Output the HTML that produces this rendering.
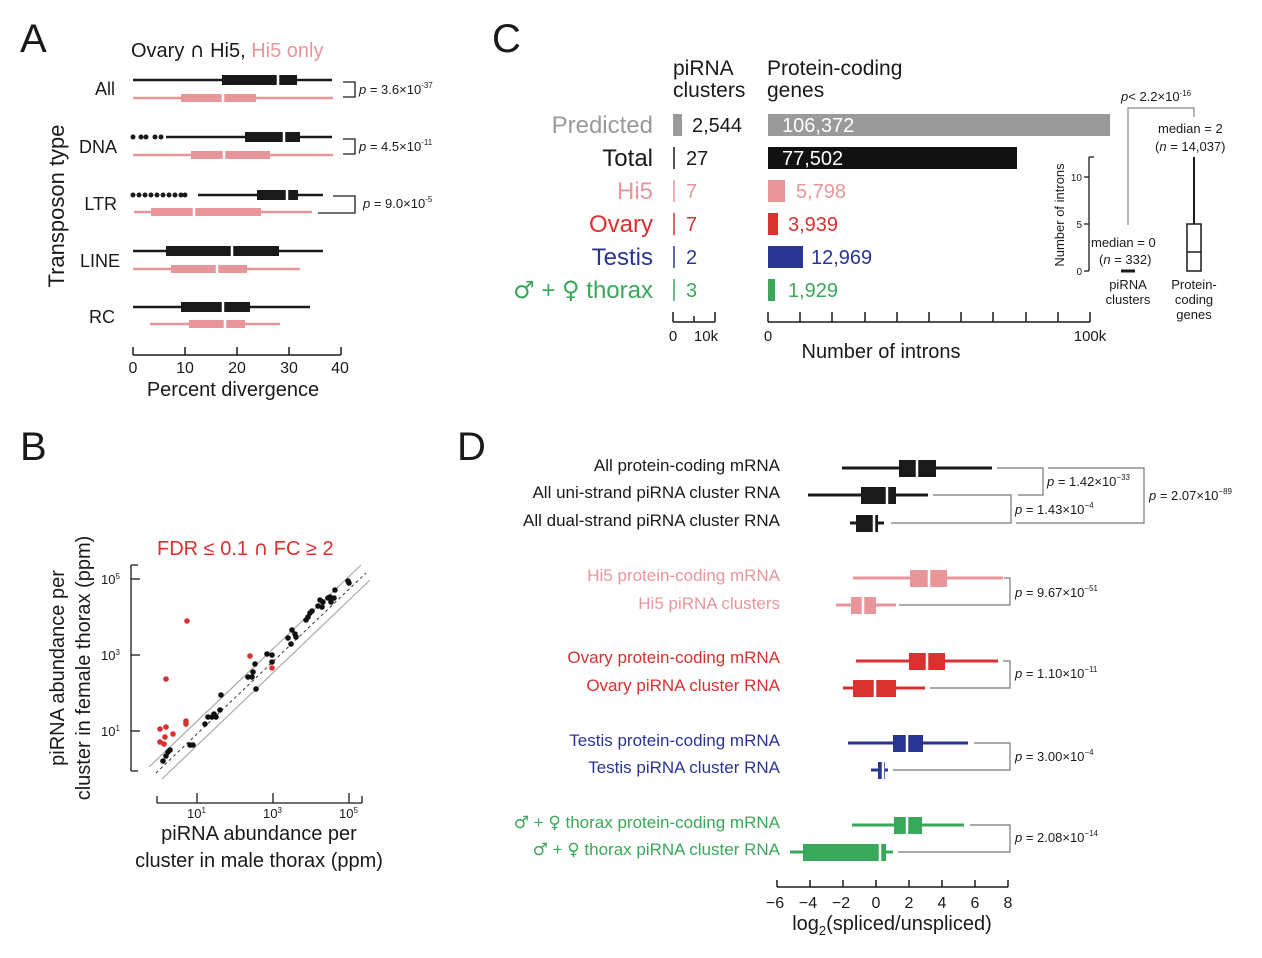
<!DOCTYPE html>
<html><head><meta charset="utf-8"><style>
body{margin:0;background:#fff}
svg{display:block;font-family:"Liberation Sans","DejaVu Sans",sans-serif}
.sym{font-family:"DejaVu Sans",sans-serif}
</style></head><body>
<svg width="1262" height="958" viewBox="0 0 1262 958" xmlns="http://www.w3.org/2000/svg">
<rect width="1262" height="958" fill="#fff"/>
<!-- Panel A -->
<text x="20" y="52" font-size="40" fill="#1a1a1a">A</text>
<text x="131" y="57" font-size="20" fill="#1a1a1a">Ovary <tspan class="sym">∩</tspan> Hi5, <tspan fill="#e8969a">Hi5 only</tspan></text>
<text transform="translate(64,206) rotate(-90)" text-anchor="middle" font-size="22" fill="#1a1a1a">Transposon type</text>
<g font-size="18" fill="#1a1a1a" text-anchor="end">
<text x="115" y="95">All</text><text x="117" y="153">DNA</text><text x="117" y="210">LTR</text><text x="120" y="267">LINE</text><text x="115" y="323">RC</text></g>
<g stroke-width="2.5">
<g stroke="#1a1a1a"><line x1="133" y1="80" x2="332" y2="80"/><line x1="166" y1="137" x2="332" y2="137"/><line x1="198" y1="195" x2="323" y2="195"/><line x1="133" y1="251" x2="323" y2="251"/><line x1="133" y1="307" x2="310" y2="307"/></g>
<g stroke="#e8969a"><line x1="133" y1="98" x2="333" y2="98"/><line x1="133" y1="155" x2="333" y2="155"/><line x1="134" y1="212" x2="312" y2="212"/><line x1="133" y1="269" x2="300" y2="269"/><line x1="150" y1="324" x2="280" y2="324"/></g>
</g>
<g fill="#1a1a1a">
<rect x="222" y="75" width="75" height="10"/><rect x="245" y="132" width="55" height="10"/><rect x="257" y="190" width="41" height="10"/><rect x="166" y="246" width="113" height="10"/><rect x="181" y="302" width="69" height="10"/>
</g>
<g fill="#e8969a">
<rect x="181" y="94" width="75" height="8"/><rect x="191" y="151" width="79" height="8"/><rect x="151" y="208" width="110" height="8"/><rect x="171" y="265" width="76" height="8"/><rect x="189" y="320" width="56" height="8"/>
</g>
<g stroke="#fff" stroke-width="2.5">
<line x1="278" y1="73" x2="278" y2="87"/><line x1="284" y1="130" x2="284" y2="144"/><line x1="287" y1="188" x2="287" y2="202"/><line x1="232" y1="244" x2="232" y2="258"/><line x1="223" y1="300" x2="223" y2="314"/>
<line x1="223" y1="92" x2="223" y2="104"/><line x1="224" y1="149" x2="224" y2="161"/><line x1="194" y1="206" x2="194" y2="218"/><line x1="217" y1="263" x2="217" y2="275"/><line x1="225" y1="318" x2="225" y2="330"/>
</g>
<g fill="#1a1a1a">
<circle cx="133" cy="137" r="2.5"/><circle cx="141" cy="137" r="2.5"/><circle cx="146" cy="137" r="2.5"/><circle cx="155" cy="137" r="2.5"/><circle cx="161" cy="137" r="2.5"/>
<circle cx="133" cy="195" r="2.5"/><circle cx="139" cy="195" r="2.5"/><circle cx="145" cy="195" r="2.5"/><circle cx="151" cy="195" r="2.5"/><circle cx="157" cy="195" r="2.5"/><circle cx="163" cy="195" r="2.5"/><circle cx="169" cy="195" r="2.5"/><circle cx="175" cy="195" r="2.5"/><circle cx="181" cy="195" r="2.5"/><circle cx="185" cy="195" r="2.5"/>
</g>
<g stroke="#1a1a1a" stroke-width="1.3" fill="none">
<polyline points="343,82 355,82 355,97 343,97"/><polyline points="343,139 355,139 355,154 343,154"/><polyline points="333,196 355,196 355,213 318,213"/>
</g>
<g font-size="13" fill="#1a1a1a">
<text x="359" y="94"><tspan font-style="italic">p</tspan> = 3.6×10<tspan font-size="8" dy="-6">-37</tspan></text>
<text x="359" y="151"><tspan font-style="italic">p</tspan> = 4.5×10<tspan font-size="8" dy="-6">-11</tspan></text>
<text x="363" y="208"><tspan font-style="italic">p</tspan> = 9.0×10<tspan font-size="8" dy="-6">-5</tspan></text>
</g>
<g stroke="#1a1a1a" stroke-width="1.5">
<line x1="133" y1="355" x2="341" y2="355"/>
<line x1="133" y1="347" x2="133" y2="355"/><line x1="185" y1="347" x2="185" y2="355"/><line x1="237" y1="347" x2="237" y2="355"/><line x1="289" y1="347" x2="289" y2="355"/><line x1="341" y1="347" x2="341" y2="355"/>
</g>
<g font-size="16" fill="#1a1a1a" text-anchor="middle">
<text x="133" y="373">0</text><text x="185" y="373">10</text><text x="237" y="373">20</text><text x="289" y="373">30</text><text x="340" y="373">40</text></g>
<text x="233" y="396" font-size="20" text-anchor="middle" fill="#1a1a1a">Percent divergence</text>

<!-- Panel C -->
<text x="492" y="52" font-size="40" fill="#1a1a1a">C</text>
<g font-size="21" fill="#1a1a1a"><text x="673" y="75">piRNA</text><text x="673" y="97">clusters</text><text x="767" y="75">Protein-coding</text><text x="767" y="97">genes</text></g>
<g font-size="24" text-anchor="end">
<text x="653" y="133" fill="#9a9a9a">Predicted</text><text x="653" y="166" fill="#1a1a1a">Total</text><text x="653" y="199" fill="#e8969a">Hi5</text><text x="653" y="232" fill="#d93030">Ovary</text><text x="653" y="265" fill="#2a3593">Testis</text><text x="653" y="298" fill="#3aa85a"><tspan class="sym">♂</tspan> + <tspan class="sym">♀</tspan> thorax</text></g>
<rect x="673" y="114" width="9" height="22" fill="#9a9a9a"/>
<g stroke-width="1.5"><line x1="674" y1="147" x2="674" y2="169" stroke="#1a1a1a"/><line x1="674" y1="180" x2="674" y2="202" stroke="#e8969a"/><line x1="674" y1="213" x2="674" y2="235" stroke="#d93030"/><line x1="674" y1="246" x2="674" y2="268" stroke="#2a3593"/><line x1="674" y1="279" x2="674" y2="301" stroke="#3aa85a"/></g>
<g font-size="20">
<text x="692" y="132" fill="#1a1a1a">2,544</text><text x="686" y="165" fill="#1a1a1a">27</text><text x="686" y="198" fill="#e8969a">7</text><text x="686" y="231" fill="#d93030">7</text><text x="686" y="264" fill="#2a3593">2</text><text x="686" y="297" fill="#3aa85a">3</text></g>
<rect x="768" y="114" width="342" height="22" fill="#9a9a9a"/>
<rect x="768" y="147" width="249" height="22" fill="#111"/>
<rect x="768" y="180" width="17" height="22" fill="#e8969a"/>
<rect x="768" y="213" width="10" height="22" fill="#d93030"/>
<rect x="768" y="246" width="35" height="22" fill="#2a3593"/>
<rect x="768" y="279" width="7" height="22" fill="#3aa85a"/>
<g font-size="20">
<text x="782" y="132" fill="#fff">106,372</text><text x="782" y="165" fill="#fff">77,502</text><text x="796" y="198" fill="#e8969a">5,798</text><text x="788" y="231" fill="#d93030">3,939</text><text x="811" y="264" fill="#2a3593">12,969</text><text x="788" y="297" fill="#3aa85a">1,929</text></g>
<g stroke="#1a1a1a" stroke-width="1.5">
<line x1="673" y1="322" x2="715" y2="322"/><line x1="673" y1="312" x2="673" y2="322"/><line x1="694" y1="316" x2="694" y2="322"/><line x1="715" y1="312" x2="715" y2="322"/>
<line x1="768" y1="322" x2="1090" y2="322"/>
<line x1="768" y1="312" x2="768" y2="322"/><line x1="800" y1="312" x2="800" y2="322"/><line x1="832" y1="312" x2="832" y2="322"/><line x1="865" y1="312" x2="865" y2="322"/><line x1="897" y1="312" x2="897" y2="322"/><line x1="929" y1="312" x2="929" y2="322"/><line x1="961" y1="312" x2="961" y2="322"/><line x1="993" y1="312" x2="993" y2="322"/><line x1="1026" y1="312" x2="1026" y2="322"/><line x1="1058" y1="312" x2="1058" y2="322"/><line x1="1090" y1="312" x2="1090" y2="322"/>
</g>
<g font-size="15" fill="#1a1a1a" text-anchor="middle"><text x="673" y="341">0</text><text x="706" y="341">10k</text><text x="768" y="341">0</text><text x="1090" y="341">100k</text></g>
<text x="881" y="358" font-size="20" text-anchor="middle" fill="#1a1a1a">Number of introns</text>
<!-- inset -->
<g stroke="#1a1a1a" stroke-width="1.3"><line x1="1089" y1="157" x2="1089" y2="271"/><line x1="1089" y1="157" x2="1094" y2="157"/><line x1="1084" y1="177" x2="1089" y2="177"/><line x1="1084" y1="224" x2="1089" y2="224"/><line x1="1084" y1="271" x2="1089" y2="271"/></g>
<g font-size="10" fill="#1a1a1a" text-anchor="end"><text x="1082" y="181">10</text><text x="1082" y="228">5</text><text x="1082" y="275">0</text></g>
<text transform="translate(1064,215) rotate(-90)" text-anchor="middle" font-size="13" fill="#1a1a1a">Number of introns</text>
<line x1="1121" y1="271" x2="1135" y2="271" stroke="#1a1a1a" stroke-width="3"/>
<line x1="1194" y1="157" x2="1194" y2="224" stroke="#1a1a1a" stroke-width="2"/>
<rect x="1187" y="224" width="14" height="47" fill="none" stroke="#1a1a1a" stroke-width="1.5"/>
<line x1="1187" y1="252" x2="1201" y2="252" stroke="#1a1a1a" stroke-width="1.5"/>
<polyline points="1128,225 1128,108 1194,108 1194,117" fill="none" stroke="#888" stroke-width="1.2"/>
<g font-size="13" fill="#1a1a1a">
<text x="1121" y="101"><tspan font-style="italic">p</tspan>&lt; 2.2×10<tspan font-size="8" dy="-5">-16</tspan></text>
<text x="1158" y="133">median = 2</text><text x="1155" y="151">(<tspan font-style="italic">n</tspan> = 14,037)</text>
<text x="1091" y="247">median = 0</text><text x="1099" y="264">(<tspan font-style="italic">n</tspan> = 332)</text>
<g text-anchor="middle"><text x="1128" y="289">piRNA</text><text x="1128" y="304">clusters</text><text x="1194" y="289">Protein-</text><text x="1194" y="304">coding</text><text x="1194" y="319">genes</text></g>
</g>

<!-- Panel B -->
<text x="20" y="460" font-size="40" fill="#1a1a1a">B</text>
<text x="157" y="555" font-size="20" fill="#d93030">FDR ≤ 0.1 <tspan class="sym">∩</tspan> FC ≥ 2</text>
<text transform="translate(64,668) rotate(-90)" text-anchor="middle" font-size="20" fill="#1a1a1a">piRNA abundance per</text>
<text transform="translate(90,668) rotate(-90)" text-anchor="middle" font-size="20" fill="#1a1a1a">cluster in female thorax (ppm)</text>
<g stroke="#1a1a1a" stroke-width="1.3">
<line x1="131" y1="565" x2="131" y2="771"/><line x1="131" y1="565" x2="138" y2="565"/><line x1="131" y1="771" x2="138" y2="771"/>
<line x1="131" y1="579" x2="140" y2="579"/><line x1="131" y1="655" x2="140" y2="655"/><line x1="131" y1="731" x2="140" y2="731"/>
<line x1="157" y1="803" x2="362" y2="803"/><line x1="157" y1="796" x2="157" y2="803"/><line x1="362" y1="796" x2="362" y2="803"/>
<line x1="197" y1="793" x2="197" y2="803"/><line x1="273" y1="793" x2="273" y2="803"/><line x1="349" y1="793" x2="349" y2="803"/>
</g>
<g font-size="13" fill="#1a1a1a">
<text x="101" y="584">10<tspan font-size="8" dy="-5">5</tspan></text><text x="101" y="660">10<tspan font-size="8" dy="-5">3</tspan></text><text x="101" y="736">10<tspan font-size="8" dy="-5">1</tspan></text>
<text x="187" y="818">10<tspan font-size="8" dy="-5">1</tspan></text><text x="263" y="818">10<tspan font-size="8" dy="-5">3</tspan></text><text x="339" y="818">10<tspan font-size="8" dy="-5">5</tspan></text></g>
<text x="259" y="840" font-size="20" text-anchor="middle" fill="#1a1a1a">piRNA abundance per</text>
<text x="259" y="867" font-size="20" text-anchor="middle" fill="#1a1a1a">cluster in male thorax (ppm)</text>
<g stroke="#aaa" stroke-width="1.2"><line x1="149" y1="767" x2="361" y2="565"/><line x1="162" y1="779" x2="370" y2="580"/></g>
<line x1="156" y1="773" x2="366" y2="573" stroke="#333" stroke-width="1" stroke-dasharray="3,3"/>
<g fill="#111">
<circle cx="163" cy="761" r="2.8"/><circle cx="166" cy="756" r="2.8"/><circle cx="168" cy="752" r="2.8"/><circle cx="170" cy="750" r="2.8"/><circle cx="190" cy="745" r="2.8"/><circle cx="193" cy="745" r="2.8"/><circle cx="205" cy="724" r="2.8"/><circle cx="208" cy="717" r="2.8"/><circle cx="212" cy="717" r="2.8"/><circle cx="214" cy="714" r="2.8"/><circle cx="216" cy="717" r="2.8"/><circle cx="220" cy="710" r="2.8"/><circle cx="221" cy="695" r="2.8"/><circle cx="248" cy="677" r="2.8"/><circle cx="252" cy="677" r="2.8"/><circle cx="253" cy="672" r="2.8"/><circle cx="255" cy="664" r="2.8"/><circle cx="256" cy="689" r="2.8"/><circle cx="267" cy="654" r="2.8"/><circle cx="272" cy="655" r="2.8"/><circle cx="272" cy="662" r="2.8"/><circle cx="288" cy="638" r="2.8"/><circle cx="291" cy="644" r="2.8"/><circle cx="292" cy="630" r="2.8"/><circle cx="295" cy="634" r="2.8"/><circle cx="296" cy="637" r="2.8"/><circle cx="306" cy="620" r="2.8"/><circle cx="308" cy="617" r="2.8"/><circle cx="310" cy="613" r="2.8"/><circle cx="312" cy="611" r="2.8"/><circle cx="318" cy="606" r="2.8"/><circle cx="320" cy="600" r="2.8"/><circle cx="322" cy="607" r="2.8"/><circle cx="323" cy="602" r="2.8"/><circle cx="328" cy="598" r="2.8"/><circle cx="330" cy="597" r="2.8"/><circle cx="331" cy="602" r="2.8"/><circle cx="334" cy="598" r="2.8"/><circle cx="335" cy="590" r="2.8"/><circle cx="348" cy="581" r="2.8"/><circle cx="349" cy="583" r="2.8"/></g>
<g fill="#d93030">
<circle cx="187" cy="621" r="2.8"/><circle cx="166" cy="679" r="2.8"/><circle cx="160" cy="729" r="2.8"/><circle cx="166" cy="727" r="2.8"/><circle cx="173" cy="734" r="2.8"/><circle cx="165" cy="737" r="2.8"/><circle cx="160" cy="742" r="2.8"/><circle cx="164" cy="744" r="2.8"/><circle cx="186" cy="721" r="2.8"/><circle cx="186" cy="724" r="2.8"/><circle cx="250" cy="656" r="2.8"/><circle cx="272" cy="668" r="2.8"/></g>

<!-- Panel D -->
<text x="457" y="460" font-size="40" fill="#1a1a1a">D</text>
<g font-size="17" text-anchor="end">
<text x="780" y="471" fill="#1a1a1a">All protein-coding mRNA</text><text x="780" y="498" fill="#1a1a1a">All uni-strand piRNA cluster RNA</text><text x="780" y="526" fill="#1a1a1a">All dual-strand piRNA cluster RNA</text>
<text x="780" y="581" fill="#e8969a">Hi5 protein-coding mRNA</text><text x="780" y="609" fill="#e8969a">Hi5 piRNA clusters</text>
<text x="780" y="663" fill="#d93030">Ovary protein-coding mRNA</text><text x="780" y="691" fill="#d93030">Ovary piRNA cluster RNA</text>
<text x="780" y="746" fill="#2a3593">Testis protein-coding mRNA</text><text x="780" y="773" fill="#2a3593">Testis piRNA cluster RNA</text>
<text x="780" y="828" fill="#3aa85a"><tspan class="sym">♂</tspan> + <tspan class="sym">♀</tspan> thorax protein-coding mRNA</text><text x="780" y="855" fill="#3aa85a"><tspan class="sym">♂</tspan> + <tspan class="sym">♀</tspan> thorax piRNA cluster RNA</text></g>
<g stroke-width="3">
<line x1="842" y1="468" x2="992" y2="468" stroke="#1a1a1a"/><line x1="808" y1="495" x2="928" y2="495" stroke="#1a1a1a"/><line x1="850" y1="523" x2="884" y2="523" stroke="#1a1a1a"/>
<line x1="853" y1="578" x2="1003" y2="578" stroke="#e8969a"/><line x1="836" y1="605" x2="896" y2="605" stroke="#e8969a"/>
<line x1="856" y1="661" x2="998" y2="661" stroke="#d93030"/><line x1="843" y1="688" x2="925" y2="688" stroke="#d93030"/>
<line x1="848" y1="743" x2="968" y2="743" stroke="#2a3593"/><line x1="871" y1="770" x2="888" y2="770" stroke="#2a3593"/>
<line x1="852" y1="825" x2="964" y2="825" stroke="#3aa85a"/><line x1="790" y1="852" x2="893" y2="852" stroke="#3aa85a"/>
</g>
<g>
<rect x="899" y="460" width="37" height="17" fill="#1a1a1a"/><rect x="861" y="487" width="35" height="17" fill="#1a1a1a"/><rect x="856" y="515" width="22" height="17" fill="#1a1a1a"/>
<rect x="910" y="570" width="37" height="17" fill="#e8969a"/><rect x="851" y="597" width="25" height="17" fill="#e8969a"/>
<rect x="909" y="653" width="36" height="17" fill="#d93030"/><rect x="853" y="680" width="43" height="17" fill="#d93030"/>
<rect x="893" y="735" width="30" height="17" fill="#2a3593"/><rect x="878" y="762" width="7" height="17" fill="#2a3593"/>
<rect x="894" y="817" width="28" height="17" fill="#3aa85a"/><rect x="803" y="844" width="83" height="17" fill="#3aa85a"/>
</g>
<g stroke="#fff" stroke-width="2.5">
<line x1="917" y1="458" x2="917" y2="479"/><line x1="887" y1="485" x2="887" y2="506"/><line x1="874" y1="513" x2="874" y2="534"/>
<line x1="929" y1="568" x2="929" y2="589"/><line x1="863" y1="595" x2="863" y2="616"/>
<line x1="927" y1="651" x2="927" y2="672"/><line x1="875" y1="678" x2="875" y2="699"/>
<line x1="907" y1="733" x2="907" y2="754"/><line x1="883" y1="760" x2="883" y2="781"/>
<line x1="907" y1="815" x2="907" y2="836"/><line x1="880" y1="842" x2="880" y2="863"/>
</g>
<g stroke="#777" stroke-width="1.2" fill="none">
<polyline points="997,468 1043,468 1043,495 1018,495"/>
<polyline points="933,495 1011,495 1011,523 891,523"/>
<polyline points="1048,468 1144,468 1144,523 1016,523"/>
<polyline points="1004,578 1010,578 1010,605 899,605"/>
<polyline points="1003,661 1010,661 1010,688 930,688"/>
<polyline points="974,743 1010,743 1010,770 893,770"/>
<polyline points="970,825 1010,825 1010,852 898,852"/>
</g>
<g font-size="13" fill="#1a1a1a">
<text x="1047" y="486"><tspan font-style="italic">p</tspan> = 1.42×10<tspan font-size="8" dy="-6">−33</tspan></text>
<text x="1015" y="514"><tspan font-style="italic">p</tspan> = 1.43×10<tspan font-size="8" dy="-6">−4</tspan></text>
<text x="1149" y="500"><tspan font-style="italic">p</tspan> = 2.07×10<tspan font-size="8" dy="-6">−89</tspan></text>
<text x="1015" y="597"><tspan font-style="italic">p</tspan> = 9.67×10<tspan font-size="8" dy="-6">−51</tspan></text>
<text x="1015" y="678"><tspan font-style="italic">p</tspan> = 1.10×10<tspan font-size="8" dy="-6">−11</tspan></text>
<text x="1015" y="761"><tspan font-style="italic">p</tspan> = 3.00×10<tspan font-size="8" dy="-6">−4</tspan></text>
<text x="1015" y="842"><tspan font-style="italic">p</tspan> = 2.08×10<tspan font-size="8" dy="-6">−14</tspan></text>
</g>
<g stroke="#1a1a1a" stroke-width="1.5">
<line x1="777" y1="887" x2="1008" y2="887"/>
<line x1="777" y1="880" x2="777" y2="887"/><line x1="810" y1="880" x2="810" y2="887"/><line x1="843" y1="880" x2="843" y2="887"/><line x1="876" y1="880" x2="876" y2="887"/><line x1="909" y1="880" x2="909" y2="887"/><line x1="942" y1="880" x2="942" y2="887"/><line x1="975" y1="880" x2="975" y2="887"/><line x1="1008" y1="880" x2="1008" y2="887"/>
</g>
<g font-size="16" fill="#1a1a1a" text-anchor="middle">
<text x="775" y="908">−6</text><text x="808" y="908">−4</text><text x="841" y="908">−2</text><text x="876" y="908">0</text><text x="909" y="908">2</text><text x="942" y="908">4</text><text x="975" y="908">6</text><text x="1008" y="908">8</text></g>
<text x="892" y="930" font-size="20" text-anchor="middle" fill="#1a1a1a">log<tspan font-size="13" dy="5">2</tspan><tspan dy="-5">(spliced/unspliced)</tspan></text>
</svg>
</body></html>
